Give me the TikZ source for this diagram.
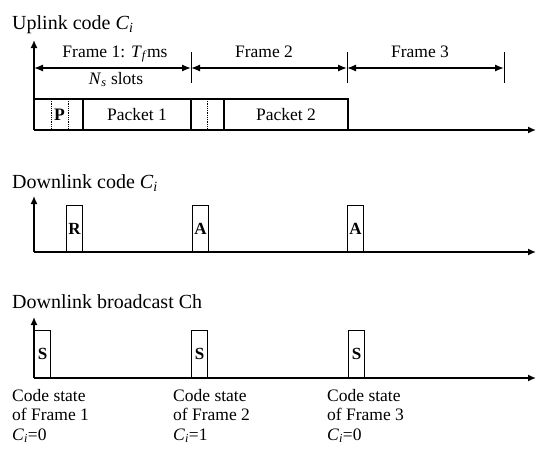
\documentclass[tikz,border=0pt]{standalone}
\usepackage{fontspec}
\setmainfont{Liberation Serif}
\usetikzlibrary{arrows.meta}
\newcommand{\codeCi}{\textit{C}\textsubscript{\textit{i}}}

\begin{document}
\begin{tikzpicture}[
  x=1pt,y=-1pt,
  font=\fontsize{17.5}{21}\selectfont,
  title/.style={anchor=base west,inner sep=0pt,font=\fontsize{20}{24}\selectfont},
  axis/.style={-{Latex[length=8pt,width=7pt]},line width=1.5pt},
  span/.style={{Latex[length=9pt,width=7pt]}-{Latex[length=9pt,width=7pt]},line width=1.3pt},
  tick/.style={line width=0.9pt},
  cell/.style={line width=1.1pt},
  gap/.style={densely dotted,line width=0.8pt},
  slotbox/.style={draw,line width=1.1pt,minimum width=16pt,inner sep=0pt,
    anchor=south west,font=\fontsize{17}{20}\selectfont\bfseries},
  note/.style={anchor=base west,align=left,inner sep=0pt,
    font=\fontsize{17.5}{19.5}\selectfont}
]
\useasboundingbox (0,0) rectangle (536,448);

% uplink channel
\node[title] (uptitle) at (12,29) {Uplink code \codeCi};
\coordinate (u0) at (34,130);
\coordinate (utop) at (34,40);
\coordinate (uend) at (536,130);
\draw[axis] (u0) -- (utop);
\draw[axis] (u0) -- (uend);

\coordinate (t0) at (34,68);
\coordinate (t1) at (191,68);
\coordinate (t2) at (347,68);
\coordinate (t3) at (504,68);
\foreach \x in {191,347,504}
  \draw[tick] (\x,52) -- (\x,83);
\draw[span] (t0) -- (t1);
\draw[span] (t1) -- (t2);
\draw[span] (t2) -- (t3);
\node[anchor=base] (f1lbl) at (115,57) {Frame 1: \textit{T}\textsubscript{\textit{f}}ms};
\node[anchor=base] (slotlbl) at (116,84) {\textit{N}\textsubscript{\textit{s}} slots};
\node[anchor=base] (f2lbl) at (264,57) {Frame 2};
\node[anchor=base] (f3lbl) at (420,57) {Frame 3};

\draw[cell] (u0) |- (348,99) -- (348,130);
\foreach \x in {83,191,224}
  \draw[cell] (\x,99) -- (\x,130);
\foreach \x in {51,68,207}
  \draw[gap] (\x,99) -- (\x,130);
\node (pslot) at (59.5,115) {\textbf{P}};
\node (pk1) at (137,115) {Packet 1};
\node (pk2) at (286,115) {Packet 2};

% downlink code channel
\node[title] (dntitle) at (12,188) {Downlink code \codeCi};
\coordinate (d0) at (34,252);
\coordinate (dtop) at (34,196);
\coordinate (dend) at (536,252);
\draw[axis] (d0) -- (dtop);
\draw[axis] (d0) -- (dend);
\node[slotbox,minimum height=46pt] (rbox) at (66,252) {R};
\node[slotbox,minimum height=46pt] (ack1) at (192,252) {A};
\node[slotbox,minimum height=46pt] (ack2) at (347,252) {A};

% downlink broadcast channel
\node[title] (bctitle) at (12,308) {Downlink broadcast Ch};
\coordinate (b0) at (34,378);
\coordinate (btop) at (34,317);
\coordinate (bend) at (536,378);
\draw[axis] (b0) -- (btop);
\draw[axis] (b0) -- (bend);
\node[slotbox,minimum height=47pt] (sync1) at (34,378) {S};
\node[slotbox,minimum height=47pt] (sync2) at (191,378) {S};
\node[slotbox,minimum height=47pt] (sync3) at (348,378) {S};

\node[note] (state1) at (12,440) {Code state\\of Frame 1\\\codeCi=0};
\node[note] (state2) at (173,440) {Code state\\of Frame 2\\\codeCi=1};
\node[note] (state3) at (327,440) {Code state\\of Frame 3\\\codeCi=0};
\end{tikzpicture}
\end{document}
